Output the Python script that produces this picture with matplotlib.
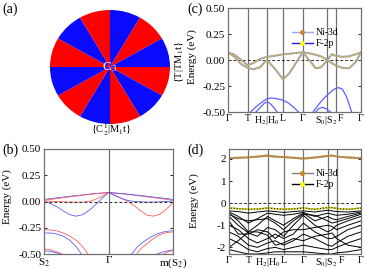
import matplotlib
matplotlib.use('Agg')
import matplotlib.pyplot as plt
from matplotlib.lines import Line2D
from matplotlib.transforms import ScaledTranslation

plt.rcParams['font.family'] = 'serif'
plt.rcParams['font.serif'] = ['Liberation Serif', 'DejaVu Serif']
plt.rcParams['mathtext.fontset'] = 'stix'

# ---- (a) symmetry wheel
a_sizes = [1] * 12
a_colors = ['#0a0aff', '#ff0000'] * 6

# ---- (b) bands along S2 - Gamma - m(S2)
b_xl = [-1, -0.9, -0.8, -0.7, -0.6, -0.5, -0.4, -0.3, -0.2, -0.1, 0]
b_xr = [0, 0.1, 0.2, 0.3, 0.4, 0.5, 0.6, 0.7, 0.8, 0.9, 1]
b_blue_up_l = [0.02, 0.028, 0.035, 0.042, 0.05, 0.057, 0.063, 0.07, 0.076, 0.081, 0.085]
b_red_up_l = [0.012, 0.02, 0.028, 0.036, 0.044, 0.052, 0.06, 0.067, 0.074, 0.08, 0.085]
b_blue_dip_l = [0.0, -0.02, -0.05, -0.09, -0.125, -0.14, -0.125, -0.085, -0.03, 0.03, 0.085]
b_red_flat_l = [0.005, 0.003, 0.0, -0.003, -0.005, -0.006, -0.005, 0.0, 0.02, 0.05, 0.085]
b_red_up_r = [0.085, 0.08, 0.074, 0.067, 0.06, 0.052, 0.044, 0.036, 0.028, 0.02, 0.012]
b_blue_up_r = [0.085, 0.081, 0.076, 0.07, 0.063, 0.057, 0.05, 0.042, 0.035, 0.028, 0.02]
b_red_dip_r = [0.085, 0.055, 0.03, 0.002, -0.04, -0.09, -0.13, -0.14, -0.12, -0.07, -0.01]
b_blue_flat_r = [0.085, 0.06, 0.03, 0.01, 0.0, -0.003, -0.005, -0.005, -0.003, 0.0, 0.005]

b_red_low1_x = [-1, -0.9, -0.8, -0.7, -0.6, -0.5, -0.4, -0.32]
b_red_low1_y = [-0.27, -0.27, -0.28, -0.3, -0.33, -0.37, -0.43, -0.5]
b_blue_low1_x = [-1, -0.9, -0.8, -0.7, -0.6, -0.5, -0.42]
b_blue_low1_y = [-0.3, -0.3, -0.31, -0.33, -0.37, -0.43, -0.5]
b_red_low2_x = [-1, -0.9, -0.8, -0.72]
b_red_low2_y = [-0.45, -0.46, -0.48, -0.5]
b_blue_low2_x = [-1, -0.9, -0.8, -0.76]
b_blue_low2_y = [-0.47, -0.475, -0.49, -0.5]
b_blue_low3_x = [0.36, 0.45, 0.55, 0.65, 0.75, 0.85, 0.95, 1.0]
b_blue_low3_y = [-0.5, -0.43, -0.38, -0.34, -0.31, -0.29, -0.28, -0.28]
b_red_low3_x = [0.44, 0.5, 0.6, 0.7, 0.8, 0.9, 1.0]
b_red_low3_y = [-0.5, -0.45, -0.4, -0.35, -0.315, -0.295, -0.29]
b_blue_low4_x = [0.75, 0.85, 0.95, 1.0]
b_blue_low4_y = [-0.5, -0.48, -0.465, -0.46]
b_red_low4_x = [0.86, 0.92, 1.0]
b_red_low4_y = [-0.5, -0.48, -0.47]

# ---- (c)/(d) k-path
k_ticks = [0, 0.147, 0.292, 0.413, 0.563, 0.748, 0.815, 1.0]
k_labels = ['Γ', 'T', 'H$_2$|H$_0$', 'L', 'Γ', 'S$_0$|S$_2$', 'F', 'Γ']

c_k = [0, 0.05, 0.10, 0.147, 0.19, 0.24, 0.292, 0.35, 0.413, 0.46, 0.51, 0.563,
       0.61, 0.66, 0.70, 0.748, 0.78, 0.815, 0.86, 0.91, 0.96, 1.0]
c_upper = [0.073, 0.05, 0.0, -0.05, -0.03, 0.01, 0.03, 0.04, 0.055, 0.06, 0.068, 0.075,
           0.065, 0.05, 0.035, 0.0, 0.055, 0.04, 0.03, 0.035, 0.055, 0.073]
c_lower = [0.073, 0.03, -0.04, -0.075, -0.09, -0.07, 0.0, -0.08, -0.185, -0.13, -0.03, 0.075,
           0.0, -0.08, -0.07, 0.0, -0.03, -0.055, -0.075, -0.08, -0.02, 0.073]
c_arc1_x = [0.17, 0.21, 0.25, 0.29, 0.32, 0.36, 0.41, 0.45, 0.49, 0.53]
c_arc1_y = [-0.5, -0.45, -0.41, -0.375, -0.365, -0.37, -0.385, -0.41, -0.45, -0.5]
c_arc2_x = [0.21, 0.24, 0.27, 0.29, 0.31, 0.34, 0.37]
c_arc2_y = [-0.5, -0.46, -0.42, -0.405, -0.41, -0.45, -0.5]
c_arc3_x = [0.64, 0.68, 0.72, 0.76, 0.80, 0.83, 0.86, 0.89, 0.93]
c_arc3_y = [-0.5, -0.43, -0.37, -0.32, -0.28, -0.265, -0.28, -0.35, -0.5]
c_arc4_x = [0.66, 0.68, 0.71, 0.74, 0.77]
c_arc4_y = [-0.5, -0.47, -0.455, -0.47, -0.5]

# ---- (d) wide window
d_k = [0, 0.07, 0.147, 0.215, 0.292, 0.35, 0.413, 0.487, 0.563, 0.65, 0.748, 0.78, 0.815, 0.9, 1.0]
d_ni = [2.05, 2.07, 2.08, 2.12, 2.17, 2.12, 2.1, 2.07, 2.03, 2.08, 2.15, 2.17, 2.12, 2.08, 2.05]
d_ni2 = [2.02, 2.04, 2.06, 2.09, 2.13, 2.09, 2.07, 2.04, 2.0, 2.05, 2.12, 2.14, 2.1, 2.05, 2.02]
d_f = [-0.22, -0.25, -0.28, -0.27, -0.22, -0.25, -0.28, -0.26, -0.22, -0.28, -0.2, -0.2, -0.24, -0.28, -0.22]
d_black = [
    [-0.35, -0.38, -0.45, -0.4, -0.35, -0.38, -0.42, -0.38, -0.35, -0.4, -0.32, -0.35, -0.38, -0.4, -0.35],
    [-0.4, -0.6, -0.9, -0.7, -0.45, -0.5, -0.55, -0.5, -0.42, -0.6, -0.45, -0.5, -0.55, -0.5, -0.4],
    [-0.45, -0.8, -1.3, -1.0, -0.6, -0.8, -1.0, -0.7, -0.45, -0.8, -0.6, -0.7, -0.75, -0.6, -0.45],
    [-0.6, -1.0, -1.35, -1.5, -1.1, -1.2, -1.5, -1.0, -0.55, -1.0, -1.3, -1.2, -1.0, -0.8, -0.6],
    [-1.0, -1.2, -1.6, -1.8, -1.6, -1.4, -1.6, -1.4, -0.9, -1.3, -1.6, -1.6, -1.5, -1.2, -1.0],
    [-1.3, -1.5, -1.9, -2.0, -1.8, -1.7, -1.9, -1.7, -1.4, -1.6, -1.9, -1.95, -1.8, -1.5, -1.3],
    [-1.6, -1.8, -2.1, -2.2, -2.05, -2.0, -2.1, -2.0, -1.9, -2.0, -2.1, -2.1, -2.0, -1.8, -1.6],
    [-2.1, -2.2, -2.3, -2.3, -2.25, -2.2, -2.2, -2.2, -2.2, -2.25, -2.3, -2.3, -2.25, -2.2, -2.1],
    [-0.5, -0.7, -0.8, -0.75, -0.7, -0.9, -1.2, -0.8, -0.5, -0.55, -0.8, -0.9, -0.85, -0.7, -0.5],
    [-0.8, -1.4, -1.4, -1.2, -1.3, -1.6, -1.3, -1.2, -1.2, -1.1, -1.0, -1.05, -1.2, -1.0, -0.8],
    [-2.0, -1.7, -1.3, -1.3, -1.45, -1.9, -1.8, -1.6, -1.7, -1.5, -1.4, -1.35, -1.6, -1.9, -2.0],
]

W, H = 365, 269
fig = plt.figure(figsize=(W / 100, H / 100), dpi=100)


def px_axes(l, t, r, b):
    return fig.add_axes([l / W, 1 - b / H, (r - l) / W, (b - t) / H])


def style(ax, xsize=8):
    for s in ax.spines.values():
        s.set_color('#707070')
        s.set_linewidth(0.9)
    ax.tick_params(axis='y', direction='in', length=2, width=0.6, labelsize=8,
                   pad=2, right=True)
    ax.tick_params(axis='x', length=0, labelsize=xsize, pad=1.5)


def nudge(label, pts):
    label.set_transform(label.get_transform() + ScaledTranslation(pts / 72, 0, fig.dpi_scale_trans))


def kpath_labels(ax):
    ax.set_xticks(k_ticks)
    ax.set_xticklabels(k_labels)
    style(ax, xsize=7)
    labs = ax.get_xticklabels()
    # pull S0|S2 and F apart a little
    nudge(labs[5], -1.0)
    nudge(labs[6], 3.2)


# (a)
ax_a = px_axes(50, 10, 170, 124)
ax_a.pie(a_sizes, colors=a_colors, startangle=90, counterclock=False, radius=1)
ax_a.set_aspect('auto')
ax_a.set_xlim(-1, 1)
ax_a.set_ylim(-1, 1)
ax_a.text(0, 0, 'C$_3$', color='white', ha='center', va='center', fontsize=9.5)
fig.text(179 / W, 1 - 62 / H, '{T|TM$_1$t}', rotation=90, ha='center', va='center', fontsize=7.5)
fig.text(111 / W, 1 - 130 / H, '{C$_2^1$|M$_1$t}', ha='center', va='center', fontsize=7.5)
fig.text(2 / W, 1 - 9 / H, '(a)', ha='left', va='center', fontsize=10)

# (b)
ax_b = px_axes(44, 149, 173, 254)
red, blue = '#ff5050', '#5050ff'
lw = 0.55
ax_b.plot(b_xl, b_blue_up_l, color=blue, lw=lw)
ax_b.plot(b_xl, b_red_up_l, color=red, lw=lw)
ax_b.plot(b_xl, b_blue_dip_l, color=blue, lw=lw)
ax_b.plot(b_xl, b_red_flat_l, color=red, lw=lw)
ax_b.plot(b_xr, b_red_up_r, color=red, lw=lw)
ax_b.plot(b_xr, b_blue_up_r, color=blue, lw=lw)
ax_b.plot(b_xr, b_red_dip_r, color=red, lw=lw)
ax_b.plot(b_xr, b_blue_flat_r, color=blue, lw=lw)
ax_b.plot(b_red_low1_x, b_red_low1_y, color=red, lw=lw)
ax_b.plot(b_blue_low1_x, b_blue_low1_y, color=blue, lw=lw)
ax_b.plot(b_red_low2_x, b_red_low2_y, color=red, lw=lw)
ax_b.plot(b_blue_low2_x, b_blue_low2_y, color=blue, lw=lw)
ax_b.plot(b_blue_low3_x, b_blue_low3_y, color=blue, lw=lw)
ax_b.plot(b_red_low3_x, b_red_low3_y, color=red, lw=lw)
ax_b.plot(b_blue_low4_x, b_blue_low4_y, color=blue, lw=lw)
ax_b.plot(b_red_low4_x, b_red_low4_y, color=red, lw=lw)
ax_b.axhline(0, color='#333333', ls='--', lw=0.8, dashes=(2.5, 2))
ax_b.axvline(0, color='#707070', lw=0.9)
ax_b.set_xlim(-1, 1)
ax_b.set_ylim(-0.5, 0.5)
ax_b.set_yticks([0.5, 0.25, 0, -0.25, -0.5])
ax_b.set_yticklabels(['0.50', '0.25', '0.00', '-0.25', '-0.50'])
ax_b.set_xticks([-1, 0, 1])
ax_b.set_xticklabels(['S$_2$', 'Γ', 'm(S$_2$)'])
style(ax_b)
ax_b.set_ylabel('Energy (eV)', fontsize=8)
ax_b.yaxis.set_label_coords(-0.25, 0.55)
fig.text(2 / W, 1 - 150 / H, '(b)', ha='left', va='center', fontsize=10)

# (c)
ax_c = px_axes(228, 8, 361, 112)
for k in k_ticks[1:-1]:
    ax_c.axvline(k, color='#707070', lw=0.9)
ax_c.axhline(0, color='#333333', lw=0.7, dashes=(3, 2))
fb_blue = '#6060ff'
for x, y in [(c_arc1_x, c_arc1_y), (c_arc2_x, c_arc2_y), (c_arc3_x, c_arc3_y), (c_arc4_x, c_arc4_y)]:
    ax_c.plot(x, y, color=fb_blue, lw=0.9)
for band in (c_upper, c_lower):
    ax_c.plot(c_k, band, color='#8c8cff', lw=1.4)
    ax_c.plot(c_k, band, color='#dcc800', lw=1.1, dashes=(1, 0.7))
ax_c.set_xlim(0, 1)
ax_c.set_ylim(-0.5, 0.5)
ax_c.set_yticks([0.5, 0.25, 0, -0.25, -0.5])
ax_c.set_yticklabels(['0.50', '0.25', '0.00', '-0.25', '-0.50'])
kpath_labels(ax_c)
ax_c.set_ylabel('Energy (eV)', fontsize=8)
ax_c.yaxis.set_label_coords(-0.23, 0.53)
h_c = [Line2D([], [], color='#a0a0ff', lw=1, marker='o', ms=2.5, mfc='#c8861e', mec='#c8861e'),
       Line2D([], [], color='#1a1aff', lw=1, marker='o', ms=2.5, mfc='#ffff00', mec='#ffff00')]
ax_c.legend(h_c, ['Ni-3d', 'F-2p'], frameon=False, fontsize=7, handlelength=2.2,
            handletextpad=0.3, labelspacing=0.2, loc='center left',
            bbox_to_anchor=((283 - 228) / 133, (112 - 38) / 104))
fig.text(187 / W, 1 - 9 / H, '(c)', ha='left', va='center', fontsize=10)

# (d)
ax_d = px_axes(229, 149, 361, 254)
for k in k_ticks[1:-1]:
    ax_d.axvline(k, color='#707070', lw=0.9)
ax_d.axhline(0, color='#333333', lw=0.7, dashes=(3, 2))
for band in d_black:
    ax_d.plot(d_k, band, color='black', lw=0.7)
ax_d.plot(d_k, d_f, color='black', lw=0.9)
ax_d.plot(d_k, d_f, color='#f0f000', lw=1.3, dashes=(1, 0.6))
for band in (d_ni, d_ni2):
    ax_d.plot(d_k, band, color='#909090', lw=0.9)
    ax_d.plot(d_k, band, color='#d08a20', lw=1.0, dashes=(1, 0.6))
ax_d.set_xlim(0, 1)
ax_d.set_ylim(-2.3, 2.45)
ax_d.set_yticks([2, 1, 0, -1, -2])
ax_d.set_yticklabels(['2', '1', '0', '-1', '-2'])
kpath_labels(ax_d)
ax_d.set_ylabel('Energy (eV)', fontsize=8)
ax_d.yaxis.set_label_coords(-0.23, 0.51)
h_d = [Line2D([], [], color='#808080', lw=1, marker='o', ms=2.5, mfc='#c8861e', mec='#c8861e'),
       Line2D([], [], color='black', lw=1, marker='o', ms=2.5, mfc='#ffff00', mec='#ffff00')]
ax_d.legend(h_d, ['Ni-3d', 'F-2p'], frameon=False, fontsize=7, handlelength=2.2,
            handletextpad=0.3, labelspacing=0.2, loc='center left',
            bbox_to_anchor=((283 - 229) / 132, (254 - 179) / 105))
fig.text(187 / W, 1 - 150 / H, '(d)', ha='left', va='center', fontsize=10)

fig.savefig('out.png', dpi=100)
